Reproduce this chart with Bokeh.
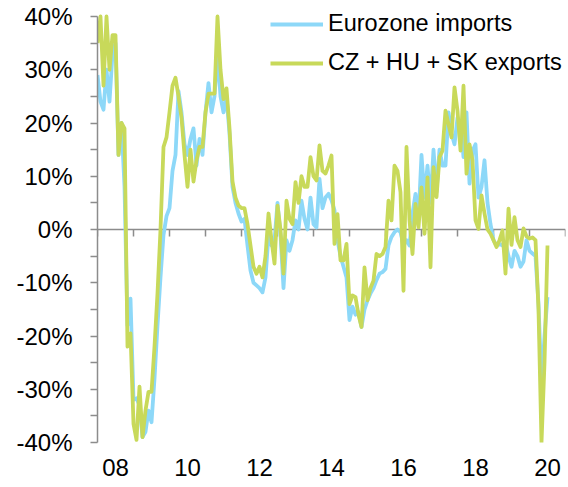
from bokeh.plotting import figure
from bokeh.models import FixedTicker, PrintfTickFormatter, Span, Range1d
from bokeh.embed import file_html
from bokeh.resources import INLINE

# ---------------- data ----------------
start_year = 2008
x_tick_labels = ["08", "10", "12", "14", "16", "18", "20"]
x_label_years = [2008, 2010, 2012, 2014, 2016, 2018, 2020]
year_bounds = list(range(2008, 2022))
y_ticks = [-40, -30, -20, -10, 0, 10, 20, 30, 40]
y_minor_ticks = [-35, -25, -15, -5, 5, 15, 25, 35]

series_names = ["Eurozone imports", "CZ + HU + SK exports"]

eurozone_imports = [
    29, 24, 22.5, 30, 24, 33, 35, 14, 20, 8, -18, -13,            # 2008
    -32, -31.7, -33, -39, -38, -34, -36.2, -28, -18, -9, -1, 2.5,  # 2009
    4, 11, 14, 26, 22, 16, 14, 17, 19, 12, 17, 14,                 # 2010
    22, 27.5, 22, 25, 33, 25, 22, 25, 18, 8, 5, 3,                 # 2011
    1.5, 2, -3, -7.7, -10, -10.5, -11, -11.8, -9, -1, -3, -2,      # 2012
    5, -1, -11, -2, -4, -2, 1.7, 0, 5.4, 2, 0, 6,                  # 2013
    1, 0.4, 9.5, 4, 6, 6.7, 5.5, 3.6, -2, -5, -7, -9,              # 2014
    -17, -14.5, -16, -15.5, -18.3, -15, -13.3, -12, -11, -9.5, -8.3, -8,  # 2015
    -7.4, -3, -1.4, -0.5, 0, -0.5, -3, -2, -3, 3, 6.7, 2,          # 2016
    14, 6, 12, 5, 15, 7, 15, 12, 12, 22, 18, 16,                   # 2017
    21, 20, 13.6, 22, 8.6, 14.8, 16, 6, 8, 13, 5, 1,               # 2018
    -2, -3, -2.7, -3, -2.5, -5, -7, -4, -5, -7, -6, -2,            # 2019
    -4, -4.5, -5, -14, -29, -20, -12.7,                            # 2020
]

cz_hu_sk_exports = [
    35, 40, 27, 40, 30, 36.5, 36.5, 14, 20, 19, -22, -19.5,        # 2008
    -36.5, -39.5, -29.5, -39, -34, -30.5, -30.5, -22, -12, 0, 15.5, 17.3,  # 2009
    22, 27, 28.5, 25, 21, 14, 8, 15, 9, 13, 15.5, 15.5,            # 2010
    22, 25.5, 25.5, 25.5, 40, 30, 24.5, 26.5, 19, 9, 6, 4.5,       # 2011
    4, 4, 1, -3, -7, -8.3, -7, -9, -5, 3, -2, -6.4,                # 2012
    4.5, 0, -8.3, 5.4, 2, 1, 8.9, 5, 10, 8, 8, 13.6,               # 2013
    10, 9.2, 15.8, 11, 10.5, 12, 13.9, -2.7, 2.9, -5.8, -5.8, -2.7,  # 2014
    -14, -12.4, -12.7, -16, -18.3, -7.1, -13.3, -11, -9.6, -4.6, -5, -4.6,  # 2015
    -3.3, 5.4, 1.7, 12, 11, 7, -11.5, 15.5, 1.7, -4.6, 4.8, 0.4,   # 2016
    7.9, -0.8, 9.8, -7.1, 11.7, 6.1, 13.6, 14.8, 22.3, 19.8, 17.3, 26.7,  # 2017
    22.3, 14.8, 27, 10.5, 16, 13, 1.7, 0.1, 6.4, 3, 0, -0.8,       # 2018
    -2, -3.3, -2, -0.2, -8.3, 3.9, -2.9, 2.3, -2, -3.3, 0.2, -1.3, # 2019
    -1.7, -1.5, -2, -15, -40, -25, -3,                             # 2020
]

months = [start_year + i / 12 for i in range(len(eurozone_imports))]

# ---------------- style ----------------
FONT = "Liberation Sans"
AXIS_COLOR = "#8c8c8c"
BLUE = "#8dd8f8"
GREEN = "#c8d95a"
W, H = 568, 487
B_LEFT, B_RIGHT, B_BOTTOM = 97, 3, 45
HEADROOM_PX = 16                     # space above the 40% line (kept inside the frame)
Y_MIN, Y_MAX = -40, 40
PLOT_PX = H - B_BOTTOM - HEADROOM_PX  # pixels from -40% to 40%
Y_TOP = Y_MAX + HEADROOM_PX * (Y_MAX - Y_MIN) / PLOT_PX

p = figure(
    width=W, height=H,
    x_range=Range1d(year_bounds[0], year_bounds[-1]),
    y_range=Range1d(Y_MIN, Y_TOP),
    output_backend="svg", toolbar_location=None,
    min_border_left=B_LEFT, min_border_right=B_RIGHT,
    min_border_top=0, min_border_bottom=B_BOTTOM,
)
p.outline_line_color = None
p.xgrid.visible = False
p.ygrid.visible = False
p.background_fill_color = "white"
p.border_fill_color = "white"

# zero line with yearly tick marks
zero = Span(location=0, dimension="width", line_color=AXIS_COLOR, line_width=1.5, level="underlay")
p.add_layout(zero)
tick_len = 7 * (Y_MAX - Y_MIN) / PLOT_PX
p.segment(x0=year_bounds, y0=[0] * len(year_bounds), x1=year_bounds,
          y1=[-tick_len] * len(year_bounds), line_color=AXIS_COLOR, line_width=1.5, level="underlay")

p.line(months, eurozone_imports, line_color=BLUE, line_width=3.8, line_join="round",
       legend_label=series_names[0])
p.line(months, cz_hu_sk_exports, line_color=GREEN, line_width=3.8, line_join="round",
       legend_label=series_names[1])

# y axis
ya = p.yaxis[0]
ya.bounds = (Y_MIN, Y_MAX)
ya.ticker = FixedTicker(ticks=y_ticks, minor_ticks=y_minor_ticks)
ya.formatter = PrintfTickFormatter(format="%d%%")
ya.axis_line_color = AXIS_COLOR
ya.axis_line_width = 1.5
ya.major_tick_line_color = AXIS_COLOR
ya.minor_tick_line_color = AXIS_COLOR
ya.major_tick_line_width = 1.5
ya.minor_tick_line_width = 1.5
ya.major_tick_in = 0
ya.major_tick_out = 7
ya.minor_tick_in = 0
ya.minor_tick_out = 7
ya.major_label_standoff = 18
ya.major_label_text_font = FONT
ya.major_label_text_font_size = "24px"
ya.major_label_text_color = "black"

# x axis (labels only, centered in year slots)
xa = p.xaxis[0]
label_pos = [y + 0.5 for y in x_label_years]
xa.ticker = FixedTicker(ticks=label_pos, minor_ticks=[])
xa.major_label_overrides = {pos: lab for pos, lab in zip(label_pos, x_tick_labels)}
xa.axis_line_color = None
xa.major_tick_line_color = None
xa.minor_tick_line_color = None
xa.major_tick_in = 0
xa.major_tick_out = 0
xa.major_label_standoff = 16
xa.major_label_text_font = FONT
xa.major_label_text_font_size = "24px"
xa.major_label_text_color = "black"

lg = p.legend[0]
lg.location = (173, 366)
lg.border_line_color = None
lg.background_fill_alpha = 0
lg.padding = 0
lg.margin = 0
lg.spacing = 12
lg.glyph_width = 53
lg.glyph_height = 24
lg.label_height = 24
lg.label_standoff = 5
lg.label_text_font = FONT
lg.label_text_font_size = "23.5px"
lg.label_text_color = "black"

open("out.html", "w").write(file_html(p, INLINE))
